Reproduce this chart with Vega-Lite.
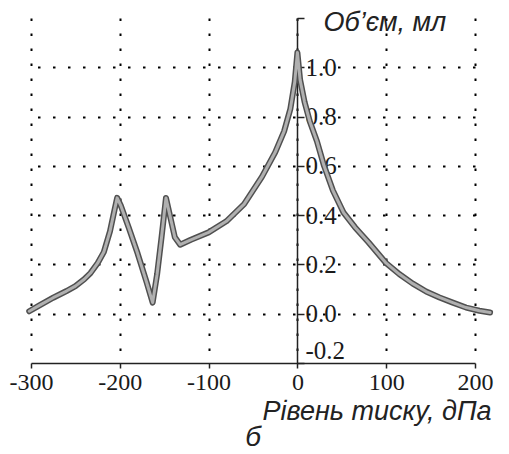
{
  "$schema": "https://vega.github.io/schema/vega-lite/v6.json",
  "width": 444,
  "height": 345,
  "autosize": "none",
  "padding": {"left": 31, "top": 18, "right": 34, "bottom": 91},
  "background": "white",
  "config": {"view": {"stroke": null}},
  "title": {"text": "б", "orient": "bottom", "anchor": "middle", "font": "Liberation Sans", "fontSize": 28, "fontStyle": "italic", "fontWeight": "normal", "color": "#222", "offset": 0},
  "data": {"values": [
    {"p": -302, "v": 0.01}, {"p": -290, "v": 0.035}, {"p": -275, "v": 0.065}, {"p": -260, "v": 0.092},
    {"p": -250, "v": 0.112}, {"p": -240, "v": 0.14}, {"p": -233, "v": 0.165}, {"p": -225, "v": 0.205},
    {"p": -218, "v": 0.25}, {"p": -211, "v": 0.335}, {"p": -206, "v": 0.42}, {"p": -203, "v": 0.47},
    {"p": -199, "v": 0.44}, {"p": -190, "v": 0.35}, {"p": -180, "v": 0.245}, {"p": -170, "v": 0.13},
    {"p": -163, "v": 0.045}, {"p": -158, "v": 0.16}, {"p": -153, "v": 0.31}, {"p": -148, "v": 0.47},
    {"p": -143, "v": 0.39}, {"p": -138, "v": 0.31}, {"p": -132, "v": 0.28}, {"p": -120, "v": 0.3},
    {"p": -100, "v": 0.33}, {"p": -80, "v": 0.375}, {"p": -60, "v": 0.445}, {"p": -40, "v": 0.555},
    {"p": -25, "v": 0.655}, {"p": -15, "v": 0.74}, {"p": -8, "v": 0.83}, {"p": -3, "v": 0.94},
    {"p": 0, "v": 1.06}, {"p": 3, "v": 0.95}, {"p": 8, "v": 0.86}, {"p": 14, "v": 0.78},
    {"p": 22, "v": 0.7}, {"p": 30, "v": 0.6}, {"p": 40, "v": 0.5}, {"p": 52, "v": 0.41},
    {"p": 65, "v": 0.35}, {"p": 80, "v": 0.29}, {"p": 100, "v": 0.205}, {"p": 115, "v": 0.16},
    {"p": 130, "v": 0.122}, {"p": 145, "v": 0.09}, {"p": 160, "v": 0.066}, {"p": 175, "v": 0.045},
    {"p": 190, "v": 0.025}, {"p": 205, "v": 0.012}, {"p": 217, "v": 0.005}
  ]},
  "encoding": {
    "x": {
      "field": "p", "type": "quantitative",
      "scale": {"domain": [-300, 200], "nice": false, "zero": false},
      "axis": {
        "orient": "bottom",
        "values": [-300, -200, -100, 0, 100, 200],
        "labelExpr": "replace(datum.label, '−', '-')",
        "labelFont": "Liberation Serif", "labelFontSize": 24, "labelColor": "#1a1a1a", "labelPadding": 2,
        "labelOverlap": false, "labelFlush": false, "labelBound": false,
        "domain": true, "domainColor": "#222", "domainWidth": 1.5,
        "ticks": true, "tickColor": "#222", "tickSize": 5, "tickWidth": 1.5,
        "grid": true, "gridColor": "#000", "gridDash": [2.5, 12.5], "gridWidth": 2,
        "title": "Рівень тиску, дПа",
        "titleFont": "Liberation Sans", "titleFontSize": 27, "titleFontStyle": "italic", "titleFontWeight": "normal", "titleColor": "#222",
        "titleX": 460, "titleY": 48, "titleAlign": "right", "titleBaseline": "middle"
      }
    },
    "y": {
      "field": "v", "type": "quantitative",
      "scale": {"domain": [-0.2, 1.2], "nice": false, "zero": false},
      "axis": {
        "orient": "right", "offset": -178,
        "values": [-0.2, 0, 0.2, 0.4, 0.6, 0.8, 1.0, 1.2],
        "labelExpr": "datum.value < 1.1 ? replace(format(datum.value, '.1f'), '−', '-') : ''",
        "labelFont": "Liberation Serif", "labelFontSize": 25, "labelColor": "#1a1a1a", "labelPadding": 1,
        "labelOverlap": false, "labelFlush": false, "labelBound": false,
        "labelBaseline": {"condition": {"test": "datum.value < -0.1", "value": "bottom"}, "value": "middle"},
        "domain": true, "domainColor": "#222", "domainWidth": 1.5,
        "ticks": true, "tickColor": "#222", "tickSize": 7, "tickWidth": 1.5,
        "grid": true, "gridColor": "#000", "gridDash": [2.5, 12.5], "gridWidth": 2,
        "gridOpacity": {"condition": {"test": "datum.value > -0.1 && datum.value < 1.1", "value": 1}, "value": 0},
        "title": "Об’єм, мл",
        "titleFont": "Liberation Sans", "titleFontSize": 27, "titleFontStyle": "italic", "titleFontWeight": "normal", "titleColor": "#222",
        "titleAngle": 0, "titleX": 26, "titleY": 4, "titleAlign": "left", "titleBaseline": "middle"
      }
    }
  },
  "layer": [
    {"mark": {"type": "line", "stroke": "#505050", "strokeWidth": 6, "strokeJoin": "round", "strokeCap": "round"}},
    {"mark": {"type": "line", "stroke": "#b0b0b0", "strokeWidth": 3, "strokeJoin": "round", "strokeCap": "round"}}
  ]
}
